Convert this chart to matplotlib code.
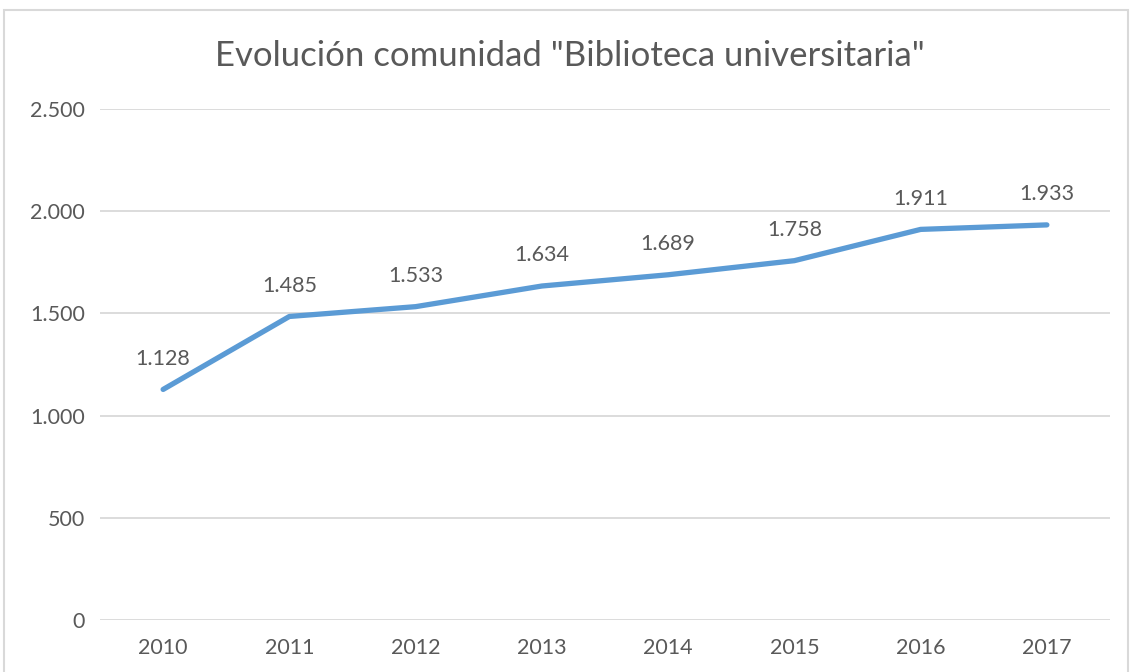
import matplotlib.pyplot as plt
from matplotlib.patches import Rectangle

years = ["2010", "2011", "2012", "2013", "2014", "2015", "2016", "2017"]
miembros = [1128, 1485, 1533, 1634, 1689, 1758, 1911, 1933]
yticks = [0, 500, 1000, 1500, 2000, 2500]
ytick_labels = ["0", "500", "1.000", "1.500", "2.000", "2.500"]

plt.rcParams['font.family'] = ['Lato', 'DejaVu Sans']
text_col = '#595959'

fig = plt.figure(figsize=(11.32, 6.72), dpi=100)
fig.patches.append(Rectangle((4 / 1132, -0.1), 1124 / 1132, 1 - 10 / 672 + 0.1,
                             transform=fig.transFigure, fill=False,
                             edgecolor='#D9D9D9', linewidth=1.5))

ax = fig.add_axes([100 / 1132, 1 - 620 / 672, 1010 / 1132, 511 / 672])
x = range(len(years))
ax.plot(x, miembros, color='#5B9BD5', linewidth=3.8, solid_capstyle='round')
for xi, v in zip(x, miembros):
    ax.annotate(f"{v/1000:.3f}", (xi, v), xytext=(0, 15), textcoords='offset points',
                ha='center', va='bottom', fontsize=15.5, color=text_col)

ax.set_xlim(-0.5, len(years) - 0.5)
ax.set_ylim(0, 2500)
ax.set_xticks(list(x))
ax.set_xticklabels(years)
ax.set_yticks(yticks)
ax.set_yticklabels(ytick_labels)
ax.tick_params(axis='both', length=0, labelsize=15.5, labelcolor=text_col)
ax.tick_params(axis='x', pad=13)
ax.tick_params(axis='y', pad=11)
ax.grid(axis='y', color='#D9D9D9', linewidth=1.3)
ax.set_axisbelow(True)
for s in ax.spines.values():
    s.set_visible(False)

fig.text(570 / 1132, 1 - 56 / 672, 'Evolución comunidad "Biblioteca universitaria"',
         ha='center', va='center', fontsize=25, color=text_col)

fig.savefig('out.png', dpi=100)
